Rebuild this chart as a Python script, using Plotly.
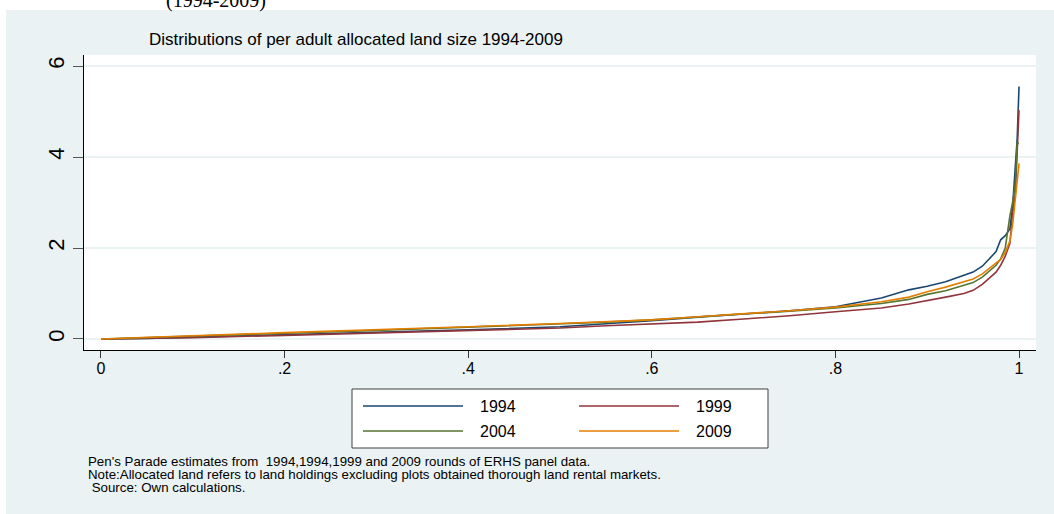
import plotly.graph_objects as go

# Population share (x) and per adult allocated land size (y) by survey round
share = [0.0, 0.05, 0.1, 0.2, 0.3, 0.4, 0.5, 0.55, 0.6, 0.65, 0.7, 0.75, 0.8,
         0.85, 0.88, 0.9, 0.92, 0.94, 0.95, 0.96, 0.97, 0.975, 0.98, 0.985,
         0.99, 0.993, 0.996, 0.998, 1.0]

land_1994 = [0.0, 0.01, 0.04, 0.09, 0.14, 0.20, 0.27, 0.33, 0.40, 0.48, 0.55,
             0.62, 0.71, 0.90, 1.08, 1.16, 1.26, 1.39, 1.47, 1.60, 1.82, 1.92,
             2.18, 2.27, 2.42, 2.90, 3.80, 4.40, 5.55]
land_1999 = [0.0, 0.01, 0.03, 0.08, 0.13, 0.18, 0.24, 0.29, 0.33, 0.37, 0.44,
             0.51, 0.60, 0.68, 0.77, 0.84, 0.92, 1.00, 1.07, 1.20, 1.38, 1.47,
             1.62, 1.82, 2.10, 2.75, 3.20, 4.20, 5.03]
land_2004 = [0.0, 0.03, 0.06, 0.13, 0.19, 0.26, 0.33, 0.37, 0.42, 0.49, 0.55,
             0.61, 0.68, 0.78, 0.87, 0.98, 1.06, 1.18, 1.24, 1.36, 1.52, 1.62,
             1.76, 2.00, 2.70, 3.00, 3.40, 4.30, 4.30]
land_2009 = [0.0, 0.04, 0.07, 0.14, 0.20, 0.27, 0.34, 0.38, 0.42, 0.49, 0.55,
             0.62, 0.70, 0.82, 0.92, 1.04, 1.14, 1.25, 1.32, 1.43, 1.60, 1.68,
             1.75, 1.90, 2.15, 2.50, 3.10, 3.50, 3.86]

years = ["1994", "1999", "2004", "2009"]
series = [land_1994, land_1999, land_2004, land_2009]
colors = ["#1a476f", "#90353b", "#55752f", "#e37e00"]

x_ticks = [0, 0.2, 0.4, 0.6, 0.8, 1.0]
x_tick_text = ["0", ".2", ".4", ".6", ".8", "1"]
y_ticks = [0, 2, 4, 6]
y_tick_text = ["0", "2", "4", "6"]

title = "Distributions of per adult allocated land size 1994-2009"
notes = [
    "Pen's Parade estimates from  1994,1994,1999 and 2009 rounds of ERHS panel data.",
    "Note:Allocated land refers to land holdings excluding plots obtained thorough land rental markets.",
    " Source: Own calculations.",
]

W, H = 1054, 514
BG = "#eaf2f3"
FONT = "Arial, 'Liberation Sans', sans-serif"


def fx(p):
    return p / W


def fy(p):
    return 1 - p / H


fig = go.Figure()
for yr, vals, col in zip(years, series, colors):
    fig.add_trace(go.Scatter(x=share, y=vals, mode="lines", name=yr,
                             line=dict(color=col, width=1.6), showlegend=False,
                             hoverinfo="skip"))

shapes = [
    # white strip above and left of the graph region
    dict(type="rect", xref="paper", yref="paper", x0=0, x1=1, y0=fy(10), y1=1,
         fillcolor="white", line=dict(width=0), layer="below"),
    dict(type="rect", xref="paper", yref="paper", x0=0, x1=fx(6), y0=0, y1=1,
         fillcolor="white", line=dict(width=0), layer="below"),
    # legend frame
    dict(type="rect", xref="paper", yref="paper", x0=fx(352), x1=fx(768),
         y0=fy(448), y1=fy(389), fillcolor="white",
         line=dict(color="#404040", width=1), layer="above"),
]

annotations = [
    dict(text="(1994-2009)", x=fx(164), y=1.0, xref="paper", yref="paper",
         xanchor="left", yanchor="middle", showarrow=False,
         font=dict(family="'Liberation Serif', 'Times New Roman', serif", size=20,
                   color="black")),
    dict(text=title, x=fx(147), y=fy(40), xref="paper", yref="paper",
         xanchor="left", yanchor="middle", showarrow=False,
         font=dict(family=FONT, size=17, color="black")),
]

# legend entries: two columns, two rows
leg_pos = [(363, 406), (579, 406), (363, 431), (579, 431)]
for (lx, ly), yr, col in zip(leg_pos, years, colors):
    shapes.append(dict(type="line", xref="paper", yref="paper",
                       x0=fx(lx), x1=fx(lx + 100), y0=fy(ly), y1=fy(ly),
                       line=dict(color=col, width=1.6), layer="above"))
    annotations.append(dict(text=yr, x=fx(lx + 115), y=fy(ly), xref="paper",
                            yref="paper", xanchor="left", yanchor="middle",
                            showarrow=False,
                            font=dict(family=FONT, size=16, color="black")))

note_pos = [(86, 461), (86, 474), (86, 487)]
for (nx, ny), txt in zip(note_pos, notes):
    annotations.append(dict(text=txt, x=fx(nx), y=fy(ny), xref="paper",
                            yref="paper", xanchor="left", yanchor="middle",
                            showarrow=False,
                            font=dict(family=FONT, size=13.3, color="black")))

fig.update_layout(
    width=W, height=H,
    margin=dict(l=0, r=0, t=0, b=0, autoexpand=False),
    paper_bgcolor=BG,
    plot_bgcolor="white",
    font=dict(family=FONT, color="black"),
    shapes=shapes,
    annotations=annotations,
    xaxis=dict(domain=[fx(84), fx(1036)], range=[-0.0185, 1.0185],
               tickvals=x_ticks, ticktext=x_tick_text, showgrid=False,
               zeroline=False, showline=True, linecolor="black", linewidth=1,
               ticks="outside", ticklen=7, tickwidth=1, tickcolor="#333",
               ticklabelstandoff=-3,
               tickfont=dict(size=16, color="black")),
    yaxis=dict(domain=[fy(350), fy(55)], range=[-0.242, 6.242],
               tickvals=y_ticks, ticktext=y_tick_text, showgrid=True,
               gridcolor=BG, gridwidth=1.5, zeroline=False, showline=True,
               linecolor="black", linewidth=1, ticks="outside", ticklen=10,
               tickwidth=1, tickcolor="#555", tickangle=-90,
               tickfont=dict(size=22, color="black")),
)

fig.write_html("out.html")
